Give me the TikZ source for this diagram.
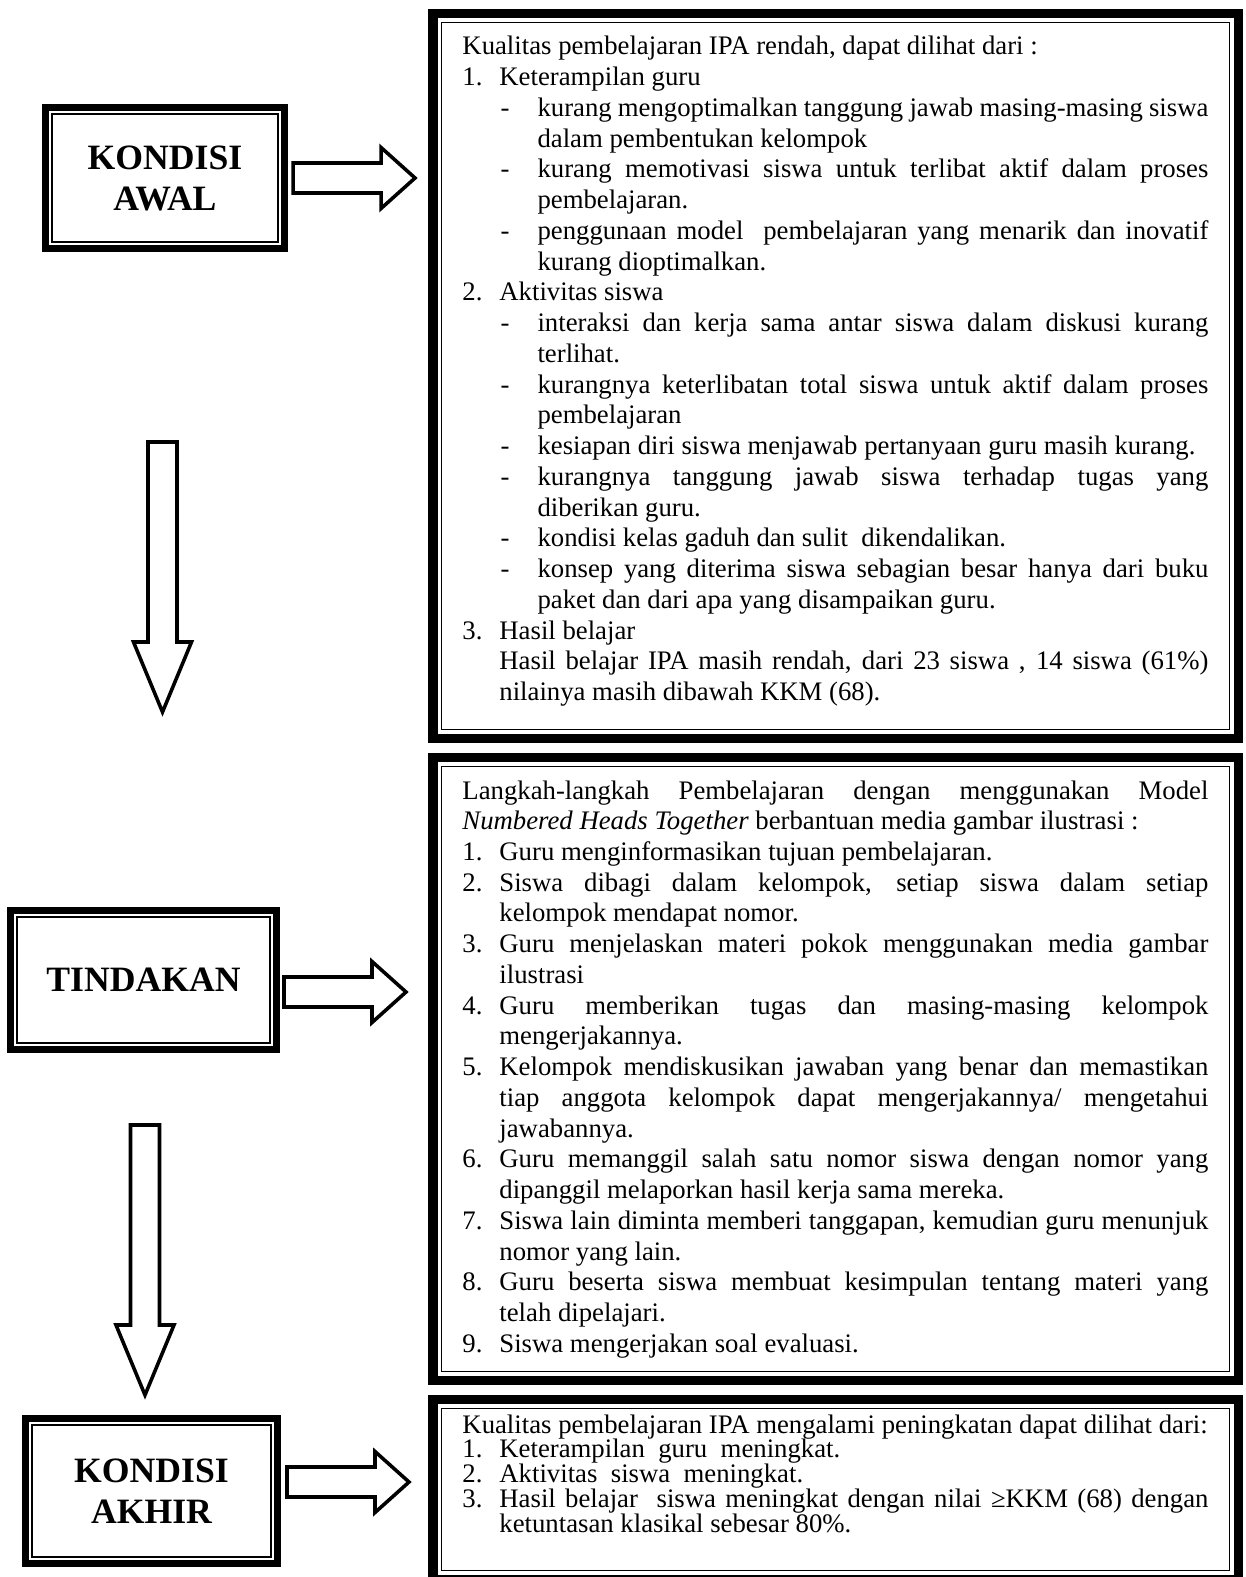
\documentclass[tikz,border=0pt]{standalone}
\usepackage{fontspec}
\setmainfont{Liberation Serif}
\usetikzlibrary{calc}

% ukuran indentasi daftar
\def\numw{16.6pt}
\def\dashw{33.7pt}
\newcommand{\nitem}[2]{\par\noindent\hangindent=\numw\hangafter=0\llap{\makebox[\numw][l]{#1}}#2}
\newcommand{\ditem}[1]{\par\noindent\hangindent=\dashw\hangafter=0\llap{\makebox[\numw][l]{-}}#1}
\newcommand{\ntext}[1]{\par\noindent\hangindent=\numw\hangafter=0 #1}

% panah blok
\newcommand{\blockright}[1]{\draw[blockarrow, shift={#1}] (0,-15) -- (88,-15) -- (88,-30.5) -- (122,0) -- (88,30.5) -- (88,15) -- (0,15) -- cycle;}
\newcommand{\blockdown}[1]{\draw[blockarrow, shift={#1}] (-14.5,0) -- (-14.5,200) -- (-29,200) -- (0,270) -- (29,200) -- (14.5,200) -- (14.5,0) -- cycle;}

\tikzset{
  labelbox/.style={draw, line width=3.14pt, inner sep=0pt, align=center,
    font=\fontsize{16}{18.4}\selectfont\bfseries},
  textframe/.style={draw, line width=4.26pt, inner sep=0pt},
  innerline/.style={line width=0.8pt},
  blockarrow/.style={line width=1.6pt, line join=miter, fill=white},
  bodytext/.style={anchor=base west, inner sep=0pt, font=\fontsize{12}{13.8}\selectfont},
}

\begin{document}
\begin{tikzpicture}[x=0.4488pt, y=-0.4488pt]
  \useasboundingbox (0,0) rectangle (1245,1577);
  \clip (0,0) rectangle (1245,1577);

  % ==========================================
  % 1. KOTAK LABEL (kiri)
  % ==========================================
  \node[labelbox, minimum width=107.3pt, minimum height=63.3pt] (awal) at (165,178) {KONDISI\\AWAL};
  \node[labelbox, minimum width=119.4pt, minimum height=62.4pt] (tindakan) at (143.5,980) {TINDAKAN};
  \node[labelbox, minimum width=113.1pt, minimum height=65.1pt] (akhir) at (151.5,1491) {KONDISI\\AKHIR};

  % ==========================================
  % 2. KOTAK URAIAN (kanan)
  % ==========================================
  \node[textframe, minimum width=361.5pt, minimum height=325.2pt] (awalbox) at (835.5,376) {};
  \node[textframe, minimum width=361.5pt, minimum height=279.4pt] (tindakanbox) at (835.5,1069) {};
  \node[textframe, minimum width=361.5pt, minimum height=80.6pt] (akhirbox) at (835.5,1489.5) {};

  % garis tipis bagian dalam (anchor ada di tepi luar garis tebal)
  \foreach \nm/\ins in {awal/10.3, tindakan/10.3, akhir/10.3, awalbox/13.5, tindakanbox/13.5, akhirbox/13.5}
    \draw[innerline] ($(\nm.north west)+(\ins,\ins)$) rectangle ($(\nm.south east)+(-\ins,-\ins)$);

  % ==========================================
  % 3. PANAH
  % ==========================================
  \blockright{($(awal.east)+(5,0)$)}
  \blockright{($(tindakan.east)+(4,12)$)}
  \blockright{($(akhir.east)+(6,-9)$)}
  \blockdown{($(awal.south)+(-2.5,190)$)}
  \blockdown{($(tindakan.south)+(1.5,72)$)}

  % ==========================================
  % 4. TEKS
  % ==========================================
  \node[bodytext] (awaltext) at (462,55) {\parbox[t]{334.8pt}{%
    \hyphenpenalty=10000 \exhyphenpenalty=10000 \tolerance=10000
    \noindent Kualitas pembelajaran IPA rendah, dapat dilihat dari :
    \nitem{1.}{Keterampilan guru}
    \ditem{kurang mengoptimalkan tanggung jawab masing-masing siswa \linebreak dalam pembentukan kelompok}
    \ditem{kurang memotivasi siswa untuk terlibat aktif dalam proses \linebreak pembelajaran.}
    \ditem{penggunaan model\ \ pembelajaran yang menarik dan inovatif \linebreak kurang dioptimalkan.}
    \nitem{2.}{Aktivitas siswa}
    \ditem{interaksi dan kerja sama antar siswa dalam diskusi kurang \linebreak terlihat.}
    \ditem{kurangnya keterlibatan total siswa untuk aktif dalam proses \linebreak pembelajaran}
    \ditem{kesiapan diri siswa menjawab pertanyaan guru masih kurang.}
    \ditem{kurangnya tanggung jawab siswa terhadap tugas yang \linebreak diberikan guru.}
    \ditem{kondisi kelas gaduh dan sulit\ \ dikendalikan.}
    \ditem{konsep yang diterima siswa sebagian besar hanya dari buku \linebreak paket dan dari apa yang disampaikan guru.}
    \nitem{3.}{Hasil belajar}
    \ntext{Hasil belajar IPA masih rendah, dari 23 siswa , 14 siswa (61\%) \linebreak nilainya masih dibawah KKM (68).}\par}};

  \node[bodytext] (tindakantext) at (462,799) {\parbox[t]{334.8pt}{%
    \hyphenpenalty=10000 \exhyphenpenalty=10000 \tolerance=10000
    \noindent Langkah-langkah Pembelajaran dengan menggunakan Model \linebreak
    \textit{Numbered Heads Together} berbantuan media gambar ilustrasi :
    \nitem{1.}{Guru menginformasikan tujuan pembelajaran.}
    \nitem{2.}{Siswa dibagi dalam kelompok, setiap siswa dalam setiap \linebreak kelompok mendapat nomor.}
    \nitem{3.}{Guru menjelaskan materi pokok menggunakan media gambar \linebreak ilustrasi}
    \nitem{4.}{Guru memberikan tugas dan masing-masing kelompok \linebreak mengerjakannya.}
    \nitem{5.}{Kelompok mendiskusikan jawaban yang benar dan memastikan \linebreak tiap anggota kelompok dapat mengerjakannya/ mengetahui \linebreak jawabannya.}
    \nitem{6.}{Guru memanggil salah satu nomor siswa dengan nomor yang \linebreak dipanggil melaporkan hasil kerja sama mereka.}
    \nitem{7.}{Siswa lain diminta memberi tanggapan, kemudian guru menunjuk \linebreak nomor yang lain.}
    \nitem{8.}{Guru beserta siswa membuat kesimpulan tentang materi yang \linebreak telah dipelajari.}
    \nitem{9.}{Siswa mengerjakan soal evaluasi.}\par}};

  \node[bodytext] (akhirtext) at (462,1433) {\parbox[t]{334.8pt}{%
    \fontsize{12}{11.2}\selectfont \lineskiplimit=-10pt
    \hyphenpenalty=10000 \exhyphenpenalty=10000 \tolerance=10000
    \noindent Kualitas pembelajaran IPA mengalami peningkatan dapat dilihat dari:
    \nitem{1.}{Keterampilan\ \ guru\ \ meningkat.}
    \nitem{2.}{Aktivitas\ \ siswa\ \ meningkat.}
    \nitem{3.}{Hasil belajar\ \ siswa meningkat dengan nilai ≥KKM (68) dengan \linebreak ketuntasan klasikal sebesar 80\%.}\par}};
\end{tikzpicture}
\end{document}
